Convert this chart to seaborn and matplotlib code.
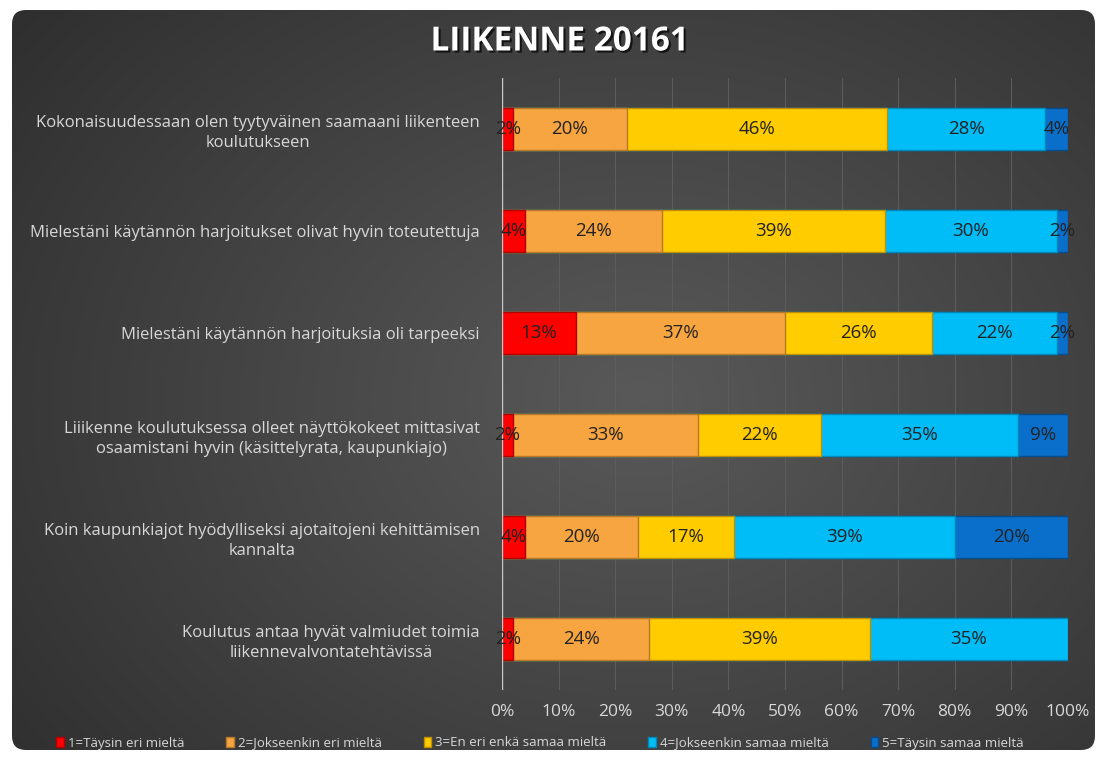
import numpy as np
import pandas as pd
import matplotlib.pyplot as plt
import seaborn as sns
from matplotlib.patches import FancyBboxPatch
from matplotlib.patches import Patch
import matplotlib.patheffects as pe

# ---- data (percent) ----
questions = [
    "Kokonaisuudessaan olen tyytyväinen saamaani liikenteen\nkoulutukseen",
    "Mielestäni käytännön harjoitukset olivat hyvin toteutettuja",
    "Mielestäni käytännön harjoituksia oli tarpeeksi",
    "Liiikenne koulutuksessa olleet näyttökokeet mittasivat\nosaamistani hyvin (käsittelyrata, kaupunkiajo)",
    "Koin kaupunkiajot hyödylliseksi ajotaitojeni kehittämisen\nkannalta",
    "Koulutus antaa hyvät valmiudet toimia\nliikennevalvontatehtävissä",
]
levels = [
    "1=Täysin eri mieltä",
    "2=Jokseenkin eri mieltä",
    "3=En eri enkä samaa mieltä",
    "4=Jokseenkin samaa mieltä",
    "5=Täysin samaa mieltä",
]
s1 = [2, 4, 13, 2, 4, 2]
s2 = [20, 24, 37, 33, 20, 24]
s3 = [46, 39, 26, 22, 17, 39]
s4 = [28, 30, 22, 35, 39, 35]
s5 = [4, 2, 2, 9, 20, 0]
colors = ["#ff0000", "#f7a540", "#ffcc00", "#00bcf7", "#0a6fca"]
edges = ["#b00000", "#b8782a", "#c09000", "#0088b8", "#064d8e"]

df = pd.DataFrame({"q": questions, levels[0]: s1, levels[1]: s2,
                   levels[2]: s3, levels[3]: s4, levels[4]: s5})
vals = df[levels].to_numpy(dtype=float)
share = vals / vals.sum(axis=1, keepdims=True) * 100
cum = np.cumsum(share, axis=1)

FONT = "Open Sans"
W, H = 1103, 758
fig = plt.figure(figsize=(W / 100, H / 100), dpi=100, facecolor="white")

# dark rounded background with soft radial gradient
bg = fig.add_axes([0, 0, 1, 1])
bg.set_xlim(0, W)
bg.set_ylim(H, 0)
bg.axis("off")
yy, xx = np.mgrid[0:H, 0:W]
r = np.sqrt(((xx - 640) / 720) ** 2 + ((yy - 400) / 560) ** 2)
g = np.clip(0.35 - 0.15 * r, 0.18, 0.35)
img = np.dstack([g, g, g])
im = bg.imshow(img, extent=(0, W, H, 0), aspect="auto", zorder=0)
box = FancyBboxPatch((12, 10), 1083, 740, boxstyle="round,pad=0,rounding_size=14",
                     transform=bg.transData, facecolor="none", edgecolor="none")
bg.add_patch(box)
im.set_clip_path(box)

fig.text(560 / W, 1 - 42 / H, "LIIKENNE 20161", ha="center", va="center",
         fontsize=24, fontweight="bold", color="white", family=FONT,
         path_effects=[pe.withSimplePatchShadow(offset=(1.5, -1.5), shadow_rgbFace="black", alpha=0.7)])

ax = fig.add_axes([502 / W, 1 - 690 / H, 566 / W, 612 / H])
ax.set_facecolor("none")

# stack from the right end backwards so each earlier segment sits on top
for k in range(len(levels) - 1, -1, -1):
    sns.barplot(x=cum[:, k], y=df["q"], orient="h", color=colors[k],
                saturation=1, width=0.42, edgecolor=edges[k], linewidth=1,
                ax=ax, zorder=3)

for i in range(len(questions)):
    for k in range(len(levels)):
        if vals[i, k] <= 0:
            continue
        left = cum[i, k] - share[i, k]
        ax.text(left + share[i, k] / 2, i, f"{int(vals[i, k])}%", ha="center", va="center",
                fontsize=13.5, color="#222222", family=FONT, zorder=5)

ax.set_xlim(0, 100)
ax.set_ylim(5.5, -0.5)
ax.set_xticks(np.arange(0, 101, 10))
ax.set_xticklabels([f"{t}%" for t in range(0, 101, 10)], fontsize=12.5,
                   color="#d8d8d8", family=FONT)
ax.tick_params(axis="x", length=0, pad=10)
ax.tick_params(axis="y", length=0, pad=16)
ax.set_yticks(range(len(questions)))
ax.set_yticklabels(questions, fontsize=12, color="#d8d8d8", family=FONT,
                   multialignment="center", linespacing=1.3)
ax.grid(axis="x", color="#5c5c5c", linewidth=0.8, zorder=0)
ax.grid(axis="y", visible=False)
ax.axvline(0, color="#c8c8c8", linewidth=1, zorder=4)
for s in ax.spines.values():
    s.set_visible(False)
ax.set_xlabel("")
ax.set_ylabel("")

handles = [Patch(facecolor=c, edgecolor=e) for c, e in zip(colors, edges)]
fig.legend(handles, levels, loc="center", bbox_to_anchor=(540 / W, 1 - 743 / H), ncol=5,
           frameon=False, labelcolor="#d8d8d8", handlelength=0.55,
           handleheight=0.8, handletextpad=0.3, columnspacing=3.2,
           prop={"family": FONT, "size": 9.5})

fig.savefig("out.png", dpi=100, facecolor="white")
